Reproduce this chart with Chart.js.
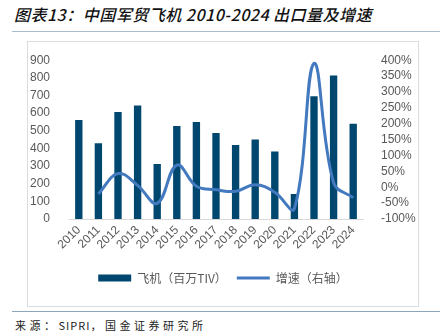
<!DOCTYPE html>
<html><head><meta charset="utf-8">
<script src="https://cdn.jsdelivr.net/npm/chart.js@4/dist/chart.umd.min.js"></script>
<style>
html,body{margin:0;padding:0;background:#fff;}
#page{position:relative;width:440px;height:336px;overflow:hidden;background:#fff;}
#title{position:absolute;left:14px;top:3px;font-family:"Noto Sans CJK SC";font-style:italic;font-weight:500;font-size:16px;letter-spacing:0.5px;color:#111;white-space:nowrap;line-height:22px;}
#tline{position:absolute;left:12px;top:31px;width:428px;height:1px;background:#a9bccb;}
#box{position:absolute;left:27px;top:41px;width:392px;height:266px;border:1px solid #dcdcdc;box-sizing:border-box;}
#fline{position:absolute;left:12px;top:311px;width:428px;height:1px;background:#8fa6b8;}
#src{position:absolute;left:15px;top:317px;font-family:"Noto Sans CJK SC";font-size:11px;letter-spacing:3.5px;color:#222;white-space:nowrap;line-height:16px;}
#src span{letter-spacing:1px;}
</style></head>
<body><div id="page">
<div id="title">图表13：中国军贸飞机 2010-2024 出口量及增速</div>
<div id="tline"></div>
<div id="box"><canvas id="c" width="390" height="264"></canvas></div>
<div id="fline"></div>
<div id="src">来源：<span>SIPRI</span>，国金证券研究所</div>
</div>
<script>
const categories = ["2010","2011","2012","2013","2014","2015","2016","2017","2018","2019","2020","2021","2022","2023","2024"];
const aircraftTIV = [561, 430, 607, 643, 312, 527, 550, 488, 419, 450, 383, 142, 695, 813, 540];
const growthPct = [null, -21, 43, 6, -51, 70, 3, -8, -13, 8, -16, -67, 390, 14, -33];
const leftTicks = [0, 900, 100];
const rightTicks = [-100, 400, 50];
const seriesNames = ["飞机（百万TIV）", "增速（右轴）"];

const barColor = "#00476F";
const lineColor = "#4279BF";
const tickColor = "#595959";

new Chart(document.getElementById("c"), {
  data: {
    labels: categories,
    datasets: [
      { type: "bar", label: seriesNames[0], data: aircraftTIV, yAxisID: "y",
        backgroundColor: barColor, barPercentage: 0.75, categoryPercentage: 0.5, order: 1 },
      { type: "line", label: seriesNames[1], data: growthPct, yAxisID: "y1",
        borderColor: lineColor, borderWidth: 3, pointRadius: 0, tension: 0.4, fill: false, order: 0 }
    ]
  },
  options: {
    responsive: false, animation: false, devicePixelRatio: 1,
    layout: { padding: { top: 16, bottom: 12, left: 0, right: 0 } },
    plugins: {
      tooltip: { enabled: false },
      legend: {
        position: "bottom",
        labels: {
          font: { family: "Noto Sans CJK SC", size: 12 }, color: tickColor,
          usePointStyle: true, pointStyleWidth: 33, boxHeight: 7, padding: 10,
          generateLabels: (chart) => [
            { text: seriesNames[0], fillStyle: barColor, strokeStyle: barColor, lineWidth: 0, pointStyle: "rect", datasetIndex: 0, hidden: false, fontColor: tickColor },
            { text: seriesNames[1], fillStyle: lineColor, strokeStyle: lineColor, lineWidth: 3, pointStyle: "line", datasetIndex: 1, hidden: false, fontColor: tickColor }
          ]
        }
      }
    },
    scales: {
      x: {
        offset: true,
        grid: { display: false, drawTicks: false },
        border: { display: true, color: "#d9d9d9", width: 1 },
        ticks: { color: tickColor, font: { family: "Liberation Sans", size: 12 }, maxRotation: 45, minRotation: 45, padding: 4, autoSkip: false },
        afterFit: (s) => { s.height = 43; }
      },
      y: {
        position: "left", min: leftTicks[0], max: leftTicks[1],
        grid: { display: false }, border: { display: false },
        ticks: { stepSize: leftTicks[2], autoSkip: false, color: tickColor, font: { family: "Liberation Sans", size: 12 }, padding: 11 },
        afterFit: (s) => { s.width = 41; }
      },
      y1: {
        position: "right", min: rightTicks[0], max: rightTicks[1],
        grid: { display: false }, border: { display: false },
        ticks: { stepSize: rightTicks[2], autoSkip: false, color: tickColor, font: { family: "Liberation Sans", size: 12 }, padding: 10, callback: (v) => v + "%" },
        afterFit: (s) => { s.width = 55; }
      }
    }
  }
});
</script>
</body></html>
